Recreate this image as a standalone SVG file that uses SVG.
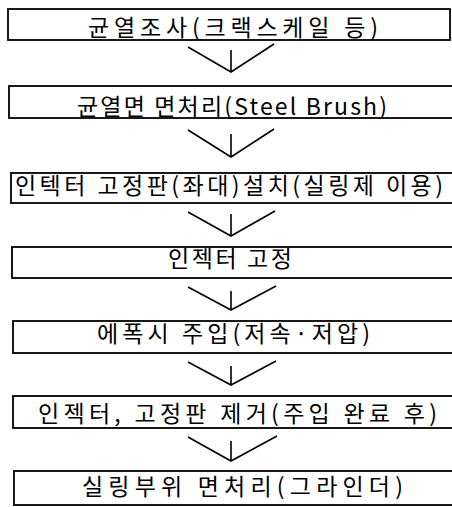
<svg xmlns="http://www.w3.org/2000/svg" width="452" height="507" viewBox="0 0 452 507">
<style>
.box{fill:none;stroke:#000;stroke-width:1.8}
.t{font-family:"Noto Sans CJK KR","Noto Sans",sans-serif;font-size:23px;fill:#000}
.arr{fill:none;stroke:#000;stroke-width:1.6}
</style>
<rect width="452" height="507" fill="#fff"/>
<g id="n1"><rect class="box" x="8" y="9" width="442" height="31"/><text class="t" x="88" y="36" textLength="290" lengthAdjust="spacing">균열조사(크랙스케일 등)</text></g>
<g id="n2"><rect class="box" x="9" y="86" width="446" height="32"/><text class="t" x="77" y="115" textLength="310" lengthAdjust="spacing">균열면 면처리(Steel Brush)</text></g>
<g id="n3"><rect class="box" x="11" y="173" width="444" height="30"/><text class="t" x="15" y="194" textLength="428" lengthAdjust="spacing">인텍터 고정판(좌대)설치(실링제 이용)</text></g>
<g id="n4"><rect class="box" x="12" y="247" width="443" height="31"/><text class="t" x="168" y="267" textLength="124" lengthAdjust="spacing">인젝터 고정</text></g>
<g id="n5"><rect class="box" x="13" y="321" width="442" height="32"/><text class="t" x="97" y="342" textLength="273" lengthAdjust="spacing">에폭시 주입(저속·저압)</text></g>
<g id="n6"><rect class="box" x="13" y="396" width="442" height="32"/><text class="t" x="38" y="422" textLength="399" lengthAdjust="spacing">인젝터, 고정판 제거(주입 완료 후)</text></g>
<g id="n7"><rect class="box" x="14" y="471" width="441" height="34"/><text class="t" x="82" y="495" textLength="321" lengthAdjust="spacing">실링부위 면처리(그라인더)</text></g>
<g id="connectors">
<path class="arr" d="M188,47 L231,72 L274,44 M231,50 V72"/>
<path class="arr" d="M188,130 L231,157 L274,129 M231,134 V157"/>
<path class="arr" d="M188,212 L231,236 L275,211 M231,214 V236"/>
<path class="arr" d="M188,287 L231,310 L276,286 M231,291 V310"/>
<path class="arr" d="M188,362 L231,385 L276,361 M231,366 V385"/>
<path class="arr" d="M188,437 L231,461 L277,436 M231,441 V461"/>
</g>
</svg>
